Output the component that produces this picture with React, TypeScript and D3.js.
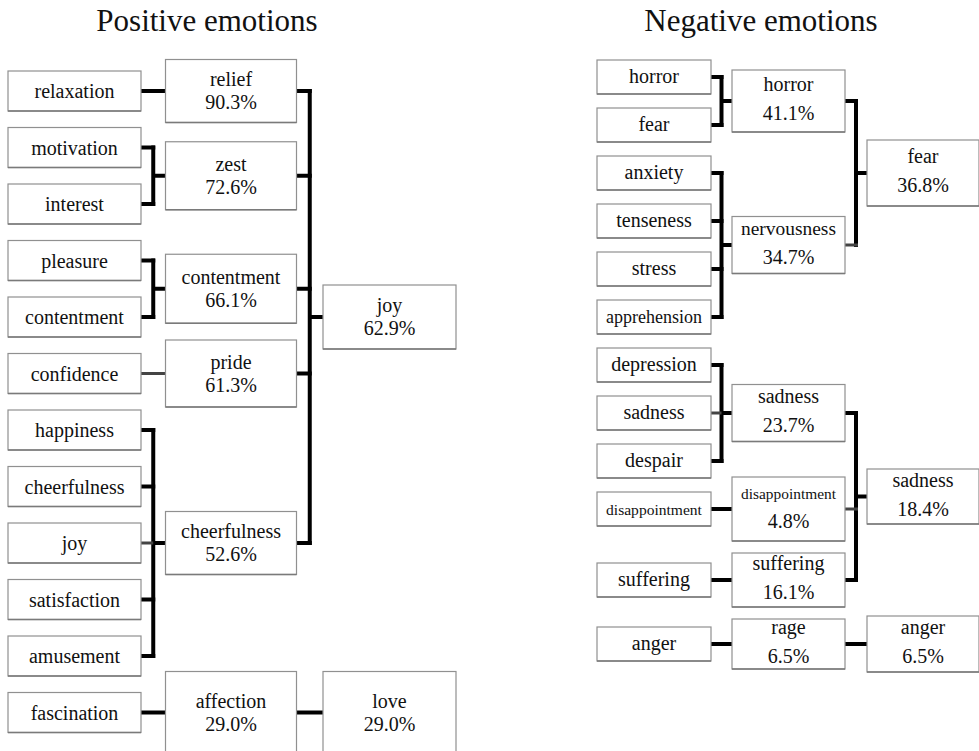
import React from "react";
import * as d3 from "d3";

// ---------- DATA ----------
const posTitle = "Positive emotions";
const posLeaves = ["relaxation", "motivation", "interest", "pleasure", "contentment", "confidence", "happiness", "cheerfulness", "joy", "satisfaction", "amusement", "fascination"];
const posLeafGroup = [0, 1, 1, 2, 2, 3, 4, 4, 4, 4, 4, 5];
const posMids = ["relief", "zest", "contentment", "pride", "cheerfulness", "affection"];
const posMidPct = [90.3, 72.6, 66.1, 61.3, 52.6, 29.0];
const posMidGroup = [0, 0, 0, 0, 0, 1];
const posTops = ["joy", "love"];
const posTopPct = [62.9, 29.0];

const negTitle = "Negative emotions";
const negLeaves = ["horror", "fear", "anxiety", "tenseness", "stress", "apprehension", "depression", "sadness", "despair", "disappointment", "suffering", "anger"];
const negLeafGroup = [0, 0, 1, 1, 1, 1, 2, 2, 2, 3, 4, 5];
const negMids = ["horror", "nervousness", "sadness", "disappointment", "suffering", "rage"];
const negMidPct = [41.1, 34.7, 23.7, 4.8, 16.1, 6.5];
const negMidGroup = [0, 0, 1, 1, 1, 2];
const negTops = ["fear", "sadness", "anger"];
const negTopPct = [36.8, 18.4, 6.5];

// ---------- LAYOUT / STYLE ----------
const W = 979;
const H = 751;
const FONT = "'Liberation Serif', 'DejaVu Serif', serif";
const BASE_FS = 20;

const posLayout = {
  xRange: [8, 323], widths: [133, 131, 133],
  leafY0: 91, leafPitch: 56.5, leafH: 40,
  midH: [63, 68, 69, 67, 63, 82], topH: [64, 82], gap: 12,
  lines: [-5, 18], titleX: 207,
  lightLeaves: [5, 8], lightMids: [] as number[],
};
const negLayout = {
  xRange: [597, 867], widths: [114, 113, 112],
  leafY0: 77, leafPitch: 48, leafH: 34,
  midH: [62, 57, 57, 64, 54, 50], topH: [66, 55, 56], gap: 12,
  lines: [-10, 19], titleX: 761,
  lightLeaves: [7], lightMids: [1, 3],
};

const fmt = d3.format(".1f");

let ctx: CanvasRenderingContext2D | null = null;
function fitSize(text: string, boxW: number) {
  if (!ctx) {
    const c = document.createElement("canvas");
    ctx = c.getContext("2d");
  }
  if (!ctx) return BASE_FS;
  ctx.font = `${BASE_FS}px ${FONT}`;
  const w = ctx.measureText(text).width;
  return Math.min(BASE_FS, (BASE_FS * (boxW - 18)) / w);
}

function layoutPanel(leaves: string[], leafGroup: number[], mids: string[], midGroup: number[], tops: string[], L: any) {
  const yScale = d3.scaleLinear().domain([0, 1]).range([L.leafY0, L.leafY0 + L.leafPitch]);
  const leafY = leaves.map((_, i) => yScale(i));
  const midY: number[] = [];
  let shift = 0;
  let prevBottom = -Infinity;
  mids.forEach((_, g) => {
    const idx = leafGroup.map((gg, i) => (gg === g ? i : -1)).filter((i) => i >= 0);
    idx.forEach((i) => (leafY[i] = yScale(i) + shift));
    let c = (d3.min(idx, (i) => leafY[i])! + d3.max(idx, (i) => leafY[i])!) / 2;
    const top = c - L.midH[g] / 2;
    if (top < prevBottom + L.gap) {
      const d = prevBottom + L.gap - top;
      shift += d;
      idx.forEach((i) => (leafY[i] += d));
      c += d;
    }
    midY[g] = c;
    prevBottom = c + L.midH[g] / 2;
  });
  const topY = tops.map((_, t) => {
    const idx = midGroup.map((gg, i) => (gg === t ? i : -1)).filter((i) => i >= 0);
    return (d3.min(idx, (i) => midY[i])! + d3.max(idx, (i) => midY[i])!) / 2;
  });
  return { leafY, midY, topY };
}

function Box({ x, y, w, h, lines, offsets }: any) {
  return (
    <g>
      <rect x={x} y={y} width={w} height={h} fill="#fff" stroke="#909090" strokeWidth={1.2} />
      <line x1={x} x2={x + w} y1={y + h} y2={y + h} stroke="#7a7a7a" strokeWidth={1.6} />
      {lines.map((t: string, i: number) => {
        const fs = fitSize(t, w);
        return (
          <text key={i} x={x + w / 2} y={y + h / 2 + offsets[i]} textAnchor="middle" style={{ fontFamily: FONT, fontSize: fs }} fill="#111">
            {t}
          </text>
        );
      })}
    </g>
  );
}

function Panel({ title, leaves, leafGroup, mids, midPct, midGroup, tops, topPct, L }: any) {
  const { leafY, midY, topY } = layoutPanel(leaves, leafGroup, mids, midGroup, tops, L);
  const colX = d3.scaleLinear().domain([0, 2]).range(L.xRange);
  const [wLeaf, wMid, wTop] = L.widths;
  const leafRight = colX(0) + wLeaf;
  const midLeft = colX(1);
  const midRight = colX(1) + wMid;
  const topLeft = colX(2);
  const vx1 = (leafRight + midLeft) / 2;
  const vx2 = (midRight + topLeft) / 2;

  const links: React.ReactNode[] = [];
  const addBracket = (childYs: number[], childRight: number, vx: number, parentLeft: number, parentY: number, light: boolean[], key: string) => {
    if (childYs.length === 1) {
      links.push(
        <line key={key + "s"} x1={childRight} x2={parentLeft} y1={childYs[0]} y2={childYs[0]} stroke={light[0] ? "#444" : "#000"} strokeWidth={light[0] ? 3 : 4} />
      );
      return;
    }
    const y0 = d3.min(childYs)!;
    const y1 = d3.max(childYs)!;
    links.push(<line key={key + "v"} x1={vx} x2={vx} y1={y0 - 2} y2={y1 + 2} stroke="#000" strokeWidth={4} />);
    childYs.forEach((cy, i) =>
      links.push(
        <line key={key + "c" + i} x1={childRight} x2={vx + 2} y1={cy} y2={cy} stroke={light[i] ? "#444" : "#000"} strokeWidth={light[i] ? 3 : 4} />
      )
    );
    links.push(<line key={key + "p"} x1={vx} x2={parentLeft} y1={parentY} y2={parentY} stroke="#000" strokeWidth={4} />);
  };

  mids.forEach((_: string, g: number) => {
    const idx = leafGroup.map((gg: number, i: number) => (gg === g ? i : -1)).filter((i: number) => i >= 0);
    addBracket(idx.map((i: number) => leafY[i]), leafRight, vx1, midLeft, midY[g], idx.map((i: number) => L.lightLeaves.includes(i)), "m" + g);
  });
  tops.forEach((_: string, t: number) => {
    const idx = midGroup.map((gg: number, i: number) => (gg === t ? i : -1)).filter((i: number) => i >= 0);
    addBracket(idx.map((i: number) => midY[i]), midRight, vx2, topLeft, topY[t], idx.map((i: number) => L.lightMids.includes(i)), "t" + t);
  });

  return (
    <g>
      <text x={L.titleX} y={31} textAnchor="middle" style={{ fontFamily: FONT, fontSize: 31 }} fill="#111">
        {title}
      </text>
      {links}
      {leaves.map((name: string, i: number) => (
        <Box key={"l" + i} x={colX(0)} y={leafY[i] - L.leafH / 2} w={wLeaf} h={L.leafH} lines={[name]} offsets={[L.leafH > 36 ? 7 : 6]} />
      ))}
      {mids.map((name: string, g: number) => (
        <Box key={"m" + g} x={midLeft} y={midY[g] - L.midH[g] / 2} w={wMid} h={L.midH[g]} lines={[name, fmt(midPct[g]) + "%"]} offsets={L.lines} />
      ))}
      {tops.map((name: string, t: number) => (
        <Box key={"t" + t} x={topLeft} y={topY[t] - L.topH[t] / 2} w={wTop} h={L.topH[t]} lines={[name, fmt(topPct[t]) + "%"]} offsets={L.lines} />
      ))}
    </g>
  );
}

export default function App() {
  return (
    <div style={{ position: "absolute", left: 0, top: 0, width: W, height: H, background: "#fff" }}>
      <svg width={W} height={H} viewBox={`0 0 ${W} ${H}`} style={{ display: "block", overflow: "hidden" }}>
        <rect x={0} y={0} width={W} height={H} fill="#fff" />
        <Panel title={posTitle} leaves={posLeaves} leafGroup={posLeafGroup} mids={posMids} midPct={posMidPct} midGroup={posMidGroup} tops={posTops} topPct={posTopPct} L={posLayout} />
        <Panel title={negTitle} leaves={negLeaves} leafGroup={negLeafGroup} mids={negMids} midPct={negMidPct} midGroup={negMidGroup} tops={negTops} topPct={negTopPct} L={negLayout} />
      </svg>
    </div>
  );
}
